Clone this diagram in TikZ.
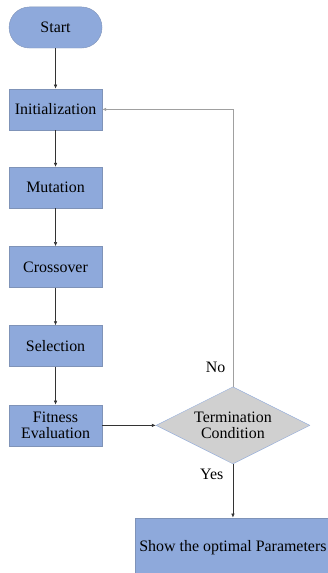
\documentclass[tikz,border=0pt]{standalone}
\usepackage{fontspec}
\setmainfont{Liberation Serif}
\usepackage{xcolor}
\usepackage{tikz}
\usetikzlibrary{arrows.meta,positioning,shapes.geometric}

\definecolor{boxblue}{HTML}{8EA9DB}
\definecolor{boxedge}{HTML}{7F93B8}
\definecolor{condgray}{HTML}{D0D0D0}
\definecolor{loopgray}{HTML}{A0A0A0}

\tikzset{
    stepbox/.style={draw=boxedge, fill=boxblue, rectangle, minimum width=3.28cm, minimum height=1.45cm, align=center, font=\fontsize{16}{18}\selectfont},
    flowline/.style={-{Latex[length=4pt,width=3.5pt]}, draw=black!80, line width=0.5pt},
}

\begin{document}
\begin{tikzpicture}
    \useasboundingbox (0,0) rectangle (11.54,-20.22);

    % Main steps
    \node[stepbox, rounded corners=0.72cm] (start) at (1.96,-0.97) {Start};
    \node[stepbox] (init) at (1.96,-3.86) {Initialization};
    \node[stepbox] (mut) at (1.96,-6.62) {Mutation};
    \node[stepbox] (cross) at (1.96,-9.42) {Crossover};
    \node[stepbox] (sel) at (1.96,-12.21) {Selection};
    \node[stepbox] (fit) at (1.96,-15.01) {Fitness\\[-2pt]Evaluation};

    % Decision
    \node[draw=boxblue, fill=condgray, diamond, aspect=2, inner sep=0pt, minimum width=5.43cm, minimum height=2.72cm, align=center, font=\fontsize{16}{18}\selectfont] (term) at (8.22,-15.01) {Termination\\[-2pt]Condition};

    % Result
    \node[stepbox, minimum width=6.91cm, minimum height=2.12cm] (show) at (8.22,-19.33) {Show the optimal Parameters};

    % Arrows
    \draw[flowline] (start) -- (init);
    \draw[flowline] (init) -- (mut);
    \draw[flowline] (mut) -- (cross);
    \draw[flowline] (cross) -- (sel);
    \draw[flowline] (sel) -- (fit);
    \draw[flowline] (fit) -- (term);
    \draw[flowline] (term.south) -- node[pos=0.2, left=6pt, font=\fontsize{16}{18}\selectfont] {Yes} (show.north);

    % Loop back
    \draw[-{Latex[length=4pt,width=3.5pt]}, draw=loopgray, line width=0.6pt] (term.north) -- node[pos=0.03, above left=2pt and 4pt, font=\fontsize{16}{18}\selectfont] {No} (term.north |- init.east) -- (init.east);
\end{tikzpicture}
\end{document}
